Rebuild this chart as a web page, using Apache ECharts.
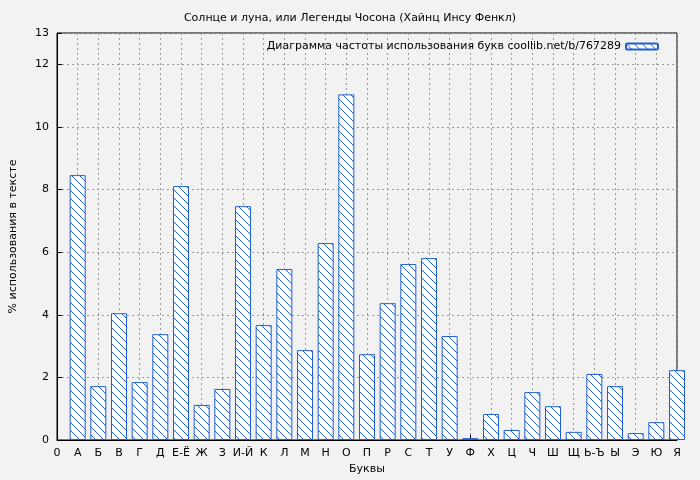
<!DOCTYPE html>
<html><head><meta charset="utf-8">
<script src="https://cdn.jsdelivr.net/npm/echarts@6/dist/echarts.min.js"></script>
<style>html,body{margin:0;background:#f2f2f2}#main{width:700px;height:480px}</style>
</head><body><div id="main"></div>
<script>
var letters = ['0','А','Б','В','Г','Д','Е-Ё','Ж','З','И-Й','К','Л','М','Н','О','П','Р','С','Т','У','Ф','Х','Ц','Ч','Ш','Щ','Ь-Ъ','Ы','Э','Ю','Я'];
var freq = ['-',8.46,1.72,4.05,1.85,3.38,8.11,1.12,1.63,7.47,3.67,5.46,2.87,6.29,11.04,2.74,4.37,5.62,5.81,3.32,0.06,0.83,0.32,1.53,1.08,0.26,2.11,1.72,0.22,0.57,2.23];

// hatch pattern
var cv = document.createElement('canvas');
cv.width = 8; cv.height = 8;
var g = cv.getContext('2d');
g.fillStyle = '#ffffff'; g.fillRect(0,0,8,8);
g.strokeStyle = '#1f5fd0'; g.lineWidth = 1;
g.beginPath(); g.moveTo(0,0); g.lineTo(8,8); g.moveTo(-4,4); g.lineTo(4,12); g.moveTo(4,-4); g.lineTo(12,4); g.stroke();

var myChart = echarts.init(document.getElementById('main'));
var font = 'DejaVu Sans';
myChart.setOption({
  backgroundColor: '#f2f2f2',
  animation: false,
  title: {text: 'Солнце и луна, или Легенды Чосона (Хайнц Инсу Фенкл)', left: 'center', top: 8,
    textStyle: {fontFamily: font, fontSize: 11, fontWeight: 'normal', color: '#000'}},
  legend: {right: 36, top: 36, align: 'right', itemWidth: 32, itemHeight: 6,
    textStyle: {fontFamily: font, fontSize: 11, color: '#000'},
    data: ['Диаграмма частоты использования букв coollib.net/b/767289']},
  grid: {left: 53, right: 23, top: 33, bottom: 40, show: true, borderColor: '#000', borderWidth: 1, backgroundColor: '#f2f2f2'},
  xAxis: {type: 'category', data: letters, boundaryGap: false,
    name: 'Буквы', nameLocation: 'middle', nameGap: 24,
    nameTextStyle: {fontFamily: font, fontSize: 11, color: '#000'},
    axisLine: {lineStyle: {color: '#000'}},
    axisTick: {inside: true, alignWithLabel: true, lineStyle: {color: '#000'}},
    axisLabel: {interval: 0, fontFamily: font, fontSize: 11, color: '#000'},
    splitLine: {show: true, lineStyle: {color: '#999', type: [2, 3]}}},
  yAxis: {type: 'value', min: 0, max: 13, interval: 2,
    name: '% использования в тексте', nameLocation: 'middle', nameGap: 38,
    nameTextStyle: {fontFamily: font, fontSize: 11, color: '#000'},
    axisLine: {show: true, lineStyle: {color: '#000'}},
    axisTick: {show: true, inside: true, lineStyle: {color: '#000'}},
    axisLabel: {fontFamily: font, fontSize: 11, color: '#000'},
    splitLine: {show: true, lineStyle: {color: '#999', type: [2, 3]}}},
  series: [{
    name: 'Диаграмма частоты использования букв coollib.net/b/767289',
    type: 'bar', data: freq, barWidth: 16, clip: true,
    itemStyle: {color: {image: cv, repeat: 'repeat'}, borderColor: '#1f5fd0', borderWidth: 1}
  }]
});
</script></body></html>
